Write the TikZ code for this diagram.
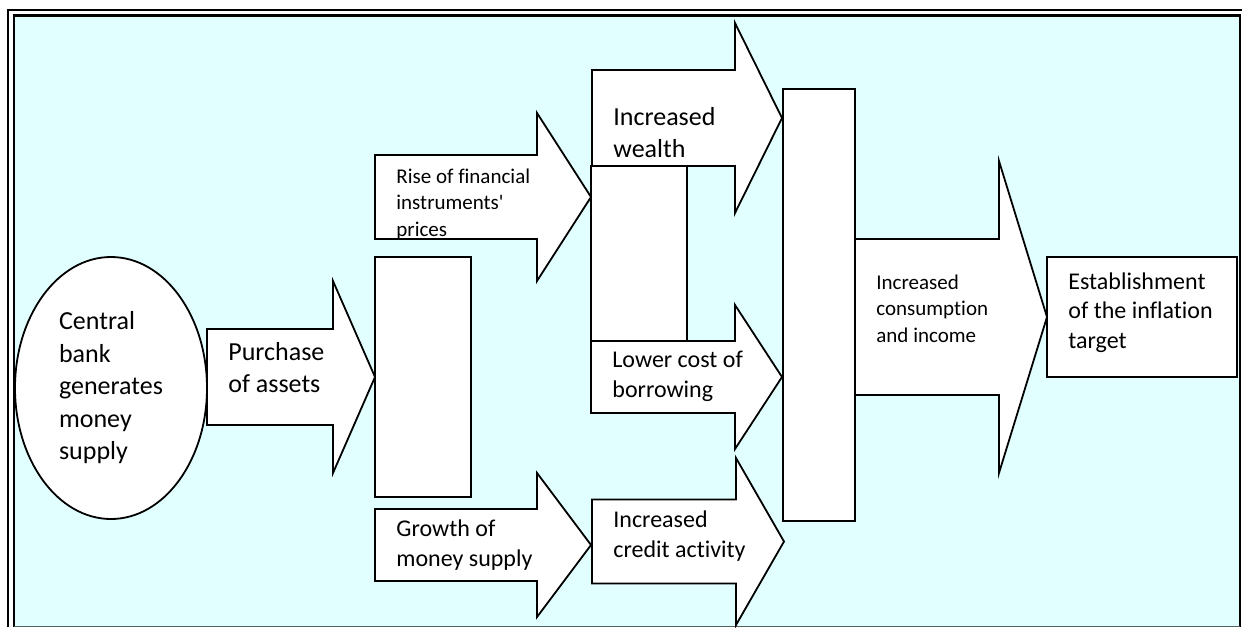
\documentclass[tikz,border=0pt]{standalone}
\usepackage{fontspec}
\setmainfont{Carlito}[Ligatures={NoCommon}]
\usetikzlibrary{shapes.geometric,fit}
\definecolor{bgcyan}{RGB}{225,255,255}
\definecolor{edgegray}{RGB}{80,95,95}
\tikzset{
  shp/.style={draw=black, fill=white, line width=0.9pt, line join=miter},
  box/.style={shp, rectangle, inner sep=0pt},
  lbl/.style={inner sep=0pt, anchor=west, align=left, text=black},
  lbig/.style={lbl, font=\fontsize{13}{16}\selectfont},
  lmid/.style={lbl, font=\fontsize{12}{14.75}\selectfont},
  lsml/.style={lbl, font=\fontsize{10.5}{13.25}\selectfont},
}
% block arrow: name, left x, head base x, tip x, centre y, body half, head half
\newcommand{\barr}[7]{%
  \draw[shp] (#2,#5-#6) -- (#3,#5-#6) -- (#3,#5-#7) -- (#4,#5)
    -- (#3,#5+#7) -- (#3,#5+#6) -- (#2,#5+#6) -- cycle;
  \coordinate (#1) at (#4,#5);}
\begin{document}
\begin{tikzpicture}[x=0.5pt, y=-0.5pt]
  \useasboundingbox[fill=white] (0,0) rectangle (1242,627);
  % frame
  \fill[bgcyan] (14,15) rectangle (1240,626);
  \draw[line width=0.9pt] (8,627) -- (8,10) -- (1242,10);
  \draw[line width=1.2pt] (14,627) -- (14,15.5) -- (1240,15.5) -- (1240,627);
  \draw[edgegray, line width=0.6pt] (14,626.5) -- (1240,626.5);
  % first stage
  \barr{purtip}{207}{333}{375}{377}{48}{96}
  \node[shp, ellipse, minimum width=96pt, minimum height=131pt, align=left,
        font=\fontsize{13}{16.25}\selectfont] (cb) at (111,388)
       {Central\\bank\\generates\\money\\supply};
  \node[lbig] (pur) at (228,367.5) {Purchase\\of assets};
  \node[box, fit={(375,257) (471,497)}] (ra) {};
  % second stage
  \barr{risetip}{375}{537}{591}{197}{42}{84}
  \begin{scope}
    \clip (375,155) rectangle (537,237.5);
    \node[lsml] (rise) at (396,204) {Rise of financial\\instruments\textquotesingle\\prices};
  \end{scope}
  \barr{grotip}{375}{537}{591}{545}{36}{72}
  \node[lmid] (gro) at (396,545) {Growth of\\money supply};
  % third stage
  \barr{weatip}{592}{735}{782}{118}{48}{95}
  \node[lbig] (wea) at (613,133) {Increased\\wealth};
  \node[box, fit={(591,166) (687,341)}] (rb) {};
  \barr{lowtip}{591}{735}{782}{377}{36}{72}
  \node[lmid] (low) at (612,376.5) {Lower cost of\\borrowing};
  \barr{credtip}{592}{736}{784}{541.5}{42}{83.5}
  \node[lmid] (cred) at (613,536) {Increased\\credit activity};
  % final stage
  \node[box, fit={(783,89) (855,521)}] (rc) {};
  \barr{contip}{855}{999}{1047}{317}{78}{156}
  \node[lsml] (con) at (876,308.5) {Increased\\consumption\\and income};
  \node[box, fit={(1047,257) (1237,377)}] (est) {};
  \node[lmid] (estl) at (1068,312.5) {Establishment\\of the inflation\\target};
\end{tikzpicture}
\end{document}
